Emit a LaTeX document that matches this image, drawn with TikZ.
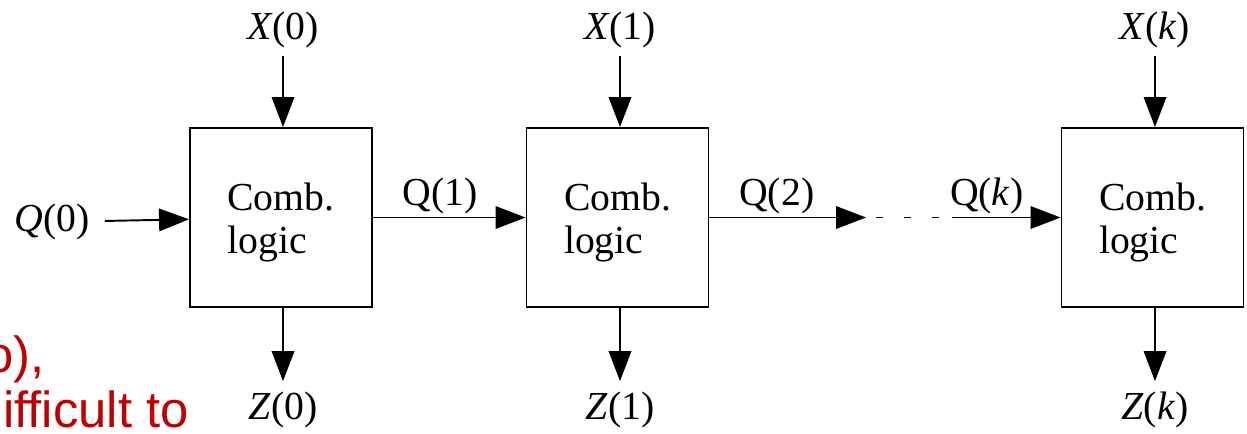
\documentclass[tikz,border=0pt]{standalone}
\usepackage{fontspec}
\setmainfont{Liberation Serif}
\newfontfamily\rougefont{Liberation Sans}
\usetikzlibrary{arrows.meta,positioning}
\definecolor{rouge}{HTML}{C00000}
\tikzset{
  boite/.style={draw,line width=1.1pt,minimum width=3.64cm,minimum height=3.58cm,
                align=left,font=\fontsize{22.6}{24.3}\selectfont},
  fleche/.style={-{Triangle[length=0.6cm,width=0.45cm]},line width=1.1pt},
  etiq/.style={font=\fontsize{22.6}{24.5}\selectfont,inner sep=0pt},
  rougetexte/.style={anchor=base west,inner sep=0pt,text=rouge,
                font=\rougefont\fontsize{28.9}{31}\selectfont},
}

\begin{document}
\begin{tikzpicture}[x=0.02cm,y=-0.02cm]
  \useasboundingbox (0,0) rectangle (1247,433);
  \clip (0,0) rectangle (1247,433);
  \node[boite] (b0) at (281,217.5) {\rule{0pt}{21pt}Comb.\\logic};
  \node[boite] (b1) at (617.5,217.5) {\rule{0pt}{21pt}Comb.\\logic};
  \node[boite] (b2) at (1152.5,217.5) {\rule{0pt}{21pt}Comb.\\logic};
  \node[etiq] (x0) at (283,30) {\textit{X}(0)};
  \node[etiq] (x1) at (620,30) {\textit{X}(1)};
  \node[etiq] (x2) at (1155,30) {\textit{X}(\textit{k})};
  \node[etiq] (z0) at (283,410) {\textit{Z}(0)};
  \node[etiq] (z1) at (620,410) {\textit{Z}(1)};
  \node[etiq] (z2) at (1155,410) {\textit{Z}(\textit{k})};
  \foreach \i in {0,1,2} {\draw[fleche,shorten <=4.5pt] (x\i) -- (x\i|-b\i.north);
    \draw[fleche,shorten >=6pt] (z\i|-b\i.south) -- (z\i);}
  \node[etiq] (q0) at (52,222) {\textit{Q}(0)};
  \draw[fleche,shorten <=0.3cm] (q0) -- (b0);
  \draw[fleche] (b0) -- node[etiq,pos=0.44,above=0.06cm] (q1) {Q(1)} (b1);
  \coordinate (d1) at (866,217.5);
  \coordinate (d2) at (952,217.5);
  \draw[fleche] (b1) -- node[etiq,pos=0.43,above=0.06cm] (q2) {Q(2)} (d1);
  \draw[line width=1.1pt,dash pattern=on 0.14cm off 0.42cm] ([xshift=0.2cm]d1) -- (d2);
  \draw[fleche] (d2) -- node[etiq,pos=0.32,above=0.06cm] (qk) {Q(\textit{k})} (b2.west);
  % bouts de texte du transparent
  \node[rougetexte] (r1) at (-15,372) {o),};
  \node[rougetexte] (r2) at (3,427) {ifficult to};
\end{tikzpicture}
\end{document}
